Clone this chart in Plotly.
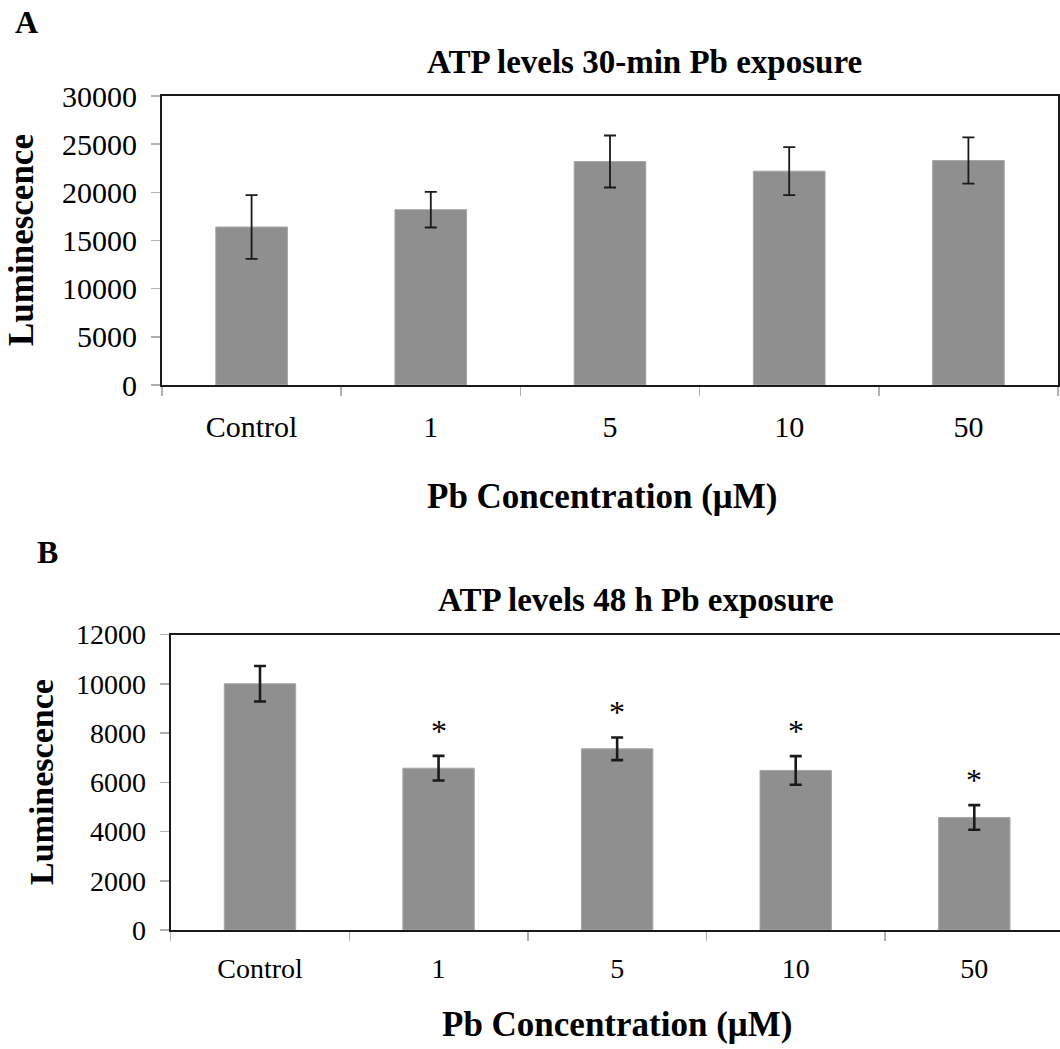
import plotly.graph_objects as go

categories = ["Control", "1", "5", "10", "50"]
atp_30min = [16400, 18200, 23200, 22200, 23300]
atp_30min_err = [3300, 1850, 2700, 2500, 2400]
atp_48h = [10000, 6570, 7360, 6480, 4570]
atp_48h_err = [720, 500, 460, 580, 500]
significant_48h = [False, True, True, True, True]

W, H = 1060, 1049
FONT = "Liberation Serif"
BAR = "#8f8f8f"
AX = "#1a1a1a"
TICK = "#b0b0b0"

def px(x):
    return x / W

def py(y):
    return 1 - y / H

fig = go.Figure()
fig.add_trace(go.Bar(
    x=categories, y=atp_30min, marker=dict(color=BAR, line=dict(color="#a8a8a8", width=1)),
    width=0.4, xaxis="x", yaxis="y",
    error_y=dict(type="data", array=atp_30min_err, color=AX, thickness=1.8, width=6),
    showlegend=False, hoverinfo="skip"))
fig.add_trace(go.Bar(
    x=categories, y=atp_48h, marker=dict(color=BAR, line=dict(color="#a8a8a8", width=1)),
    width=0.4, xaxis="x2", yaxis="y2",
    error_y=dict(type="data", array=atp_48h_err, color=AX, thickness=2.6, width=6),
    showlegend=False, hoverinfo="skip"))

common_x = dict(type="category", showline=True, linecolor=AX, linewidth=2, mirror=True,
                ticks="outside", tickson="boundaries", ticklen=9, tickcolor=TICK, tickwidth=1.5,
                showgrid=False, zeroline=False, fixedrange=True, automargin=False)
common_y = dict(showline=True, linecolor=AX, linewidth=2, ticks="outside", ticklen=9,
                tickcolor=TICK, tickwidth=1.5, showgrid=False, zeroline=False,
                ticklabelstandoff=8, fixedrange=True, automargin=False, tickformat="d")

fig.update_layout(
    template="none",
    width=W, height=H, margin=dict(l=0, r=0, t=0, b=0, autoexpand=False),
    paper_bgcolor="white", plot_bgcolor="white", bargap=0.6,
    font=dict(family=FONT, color="black"),
    xaxis=dict(domain=[px(162), px(1058)], anchor="y", range=[-0.5, 4.5],
               tickfont=dict(size=30), ticklabelstandoff=14, **common_x),
    yaxis=dict(domain=[py(385), py(96)], anchor="x", range=[0, 30000], dtick=5000,
               mirror=True, tickfont=dict(size=30), **common_y),
    xaxis2=dict(domain=[px(170.7), 1.0], anchor="y2", range=[-0.5, 4.48],
                tickfont=dict(size=28), ticklabelstandoff=12, **common_x),
    yaxis2=dict(domain=[py(930), py(634.5)], anchor="x2", range=[0, 12000], dtick=2000,
                mirror=False, tickfont=dict(size=28), **common_y),
)

ann = []
ann.append(dict(text="<b>A</b>", x=px(26), y=py(22), xref="paper", yref="paper",
                xanchor="center", yanchor="middle",
                showarrow=False, font=dict(size=32, family=FONT)))
ann.append(dict(text="<b>B</b>", x=px(47), y=py(552), xref="paper", yref="paper",
                xanchor="center", yanchor="middle",
                showarrow=False, font=dict(size=32, family=FONT)))
ann.append(dict(text="<b>ATP levels 30-min Pb exposure</b>", x=px(644), y=py(62),
                xanchor="center", yanchor="middle",
                xref="paper", yref="paper", showarrow=False, font=dict(size=33, family=FONT)))
ann.append(dict(text="<b>ATP levels 48 h Pb exposure</b>", x=px(636), y=py(600),
                xanchor="center", yanchor="middle",
                xref="paper", yref="paper", showarrow=False, font=dict(size=33, family=FONT)))
ann.append(dict(text="<b>Pb Concentration (μM)</b>", x=px(602), y=py(496),
                xanchor="center", yanchor="middle",
                xref="paper", yref="paper", showarrow=False, font=dict(size=35, family=FONT)))
ann.append(dict(text="<b>Pb Concentration (μM)</b>", x=px(617), y=py(1024),
                xanchor="center", yanchor="middle",
                xref="paper", yref="paper", showarrow=False, font=dict(size=35, family=FONT)))
ann.append(dict(text="<b>Luminescence</b>", x=px(22), y=py(240), textangle=-90,
                xanchor="center", yanchor="middle",
                xref="paper", yref="paper", showarrow=False, font=dict(size=35, family=FONT)))
ann.append(dict(text="<b>Luminescence</b>", x=px(41), y=py(782), textangle=-90,
                xanchor="center", yanchor="middle",
                xref="paper", yref="paper", showarrow=False, font=dict(size=34, family=FONT)))

for i, (v, e, s) in enumerate(zip(atp_48h, atp_48h_err, significant_48h)):
    if s:
        ann.append(dict(text="*", x=i, y=v + e, xref="x2", yref="y2", showarrow=False,
                        yanchor="bottom", yshift=5, font=dict(size=32, family=FONT)))

fig.update_layout(annotations=ann)
fig.write_html("out.html", config={"displayModeBar": False, "staticPlot": True},
               post_script="document.body.style.margin='0';document.body.style.overflow='hidden';")
